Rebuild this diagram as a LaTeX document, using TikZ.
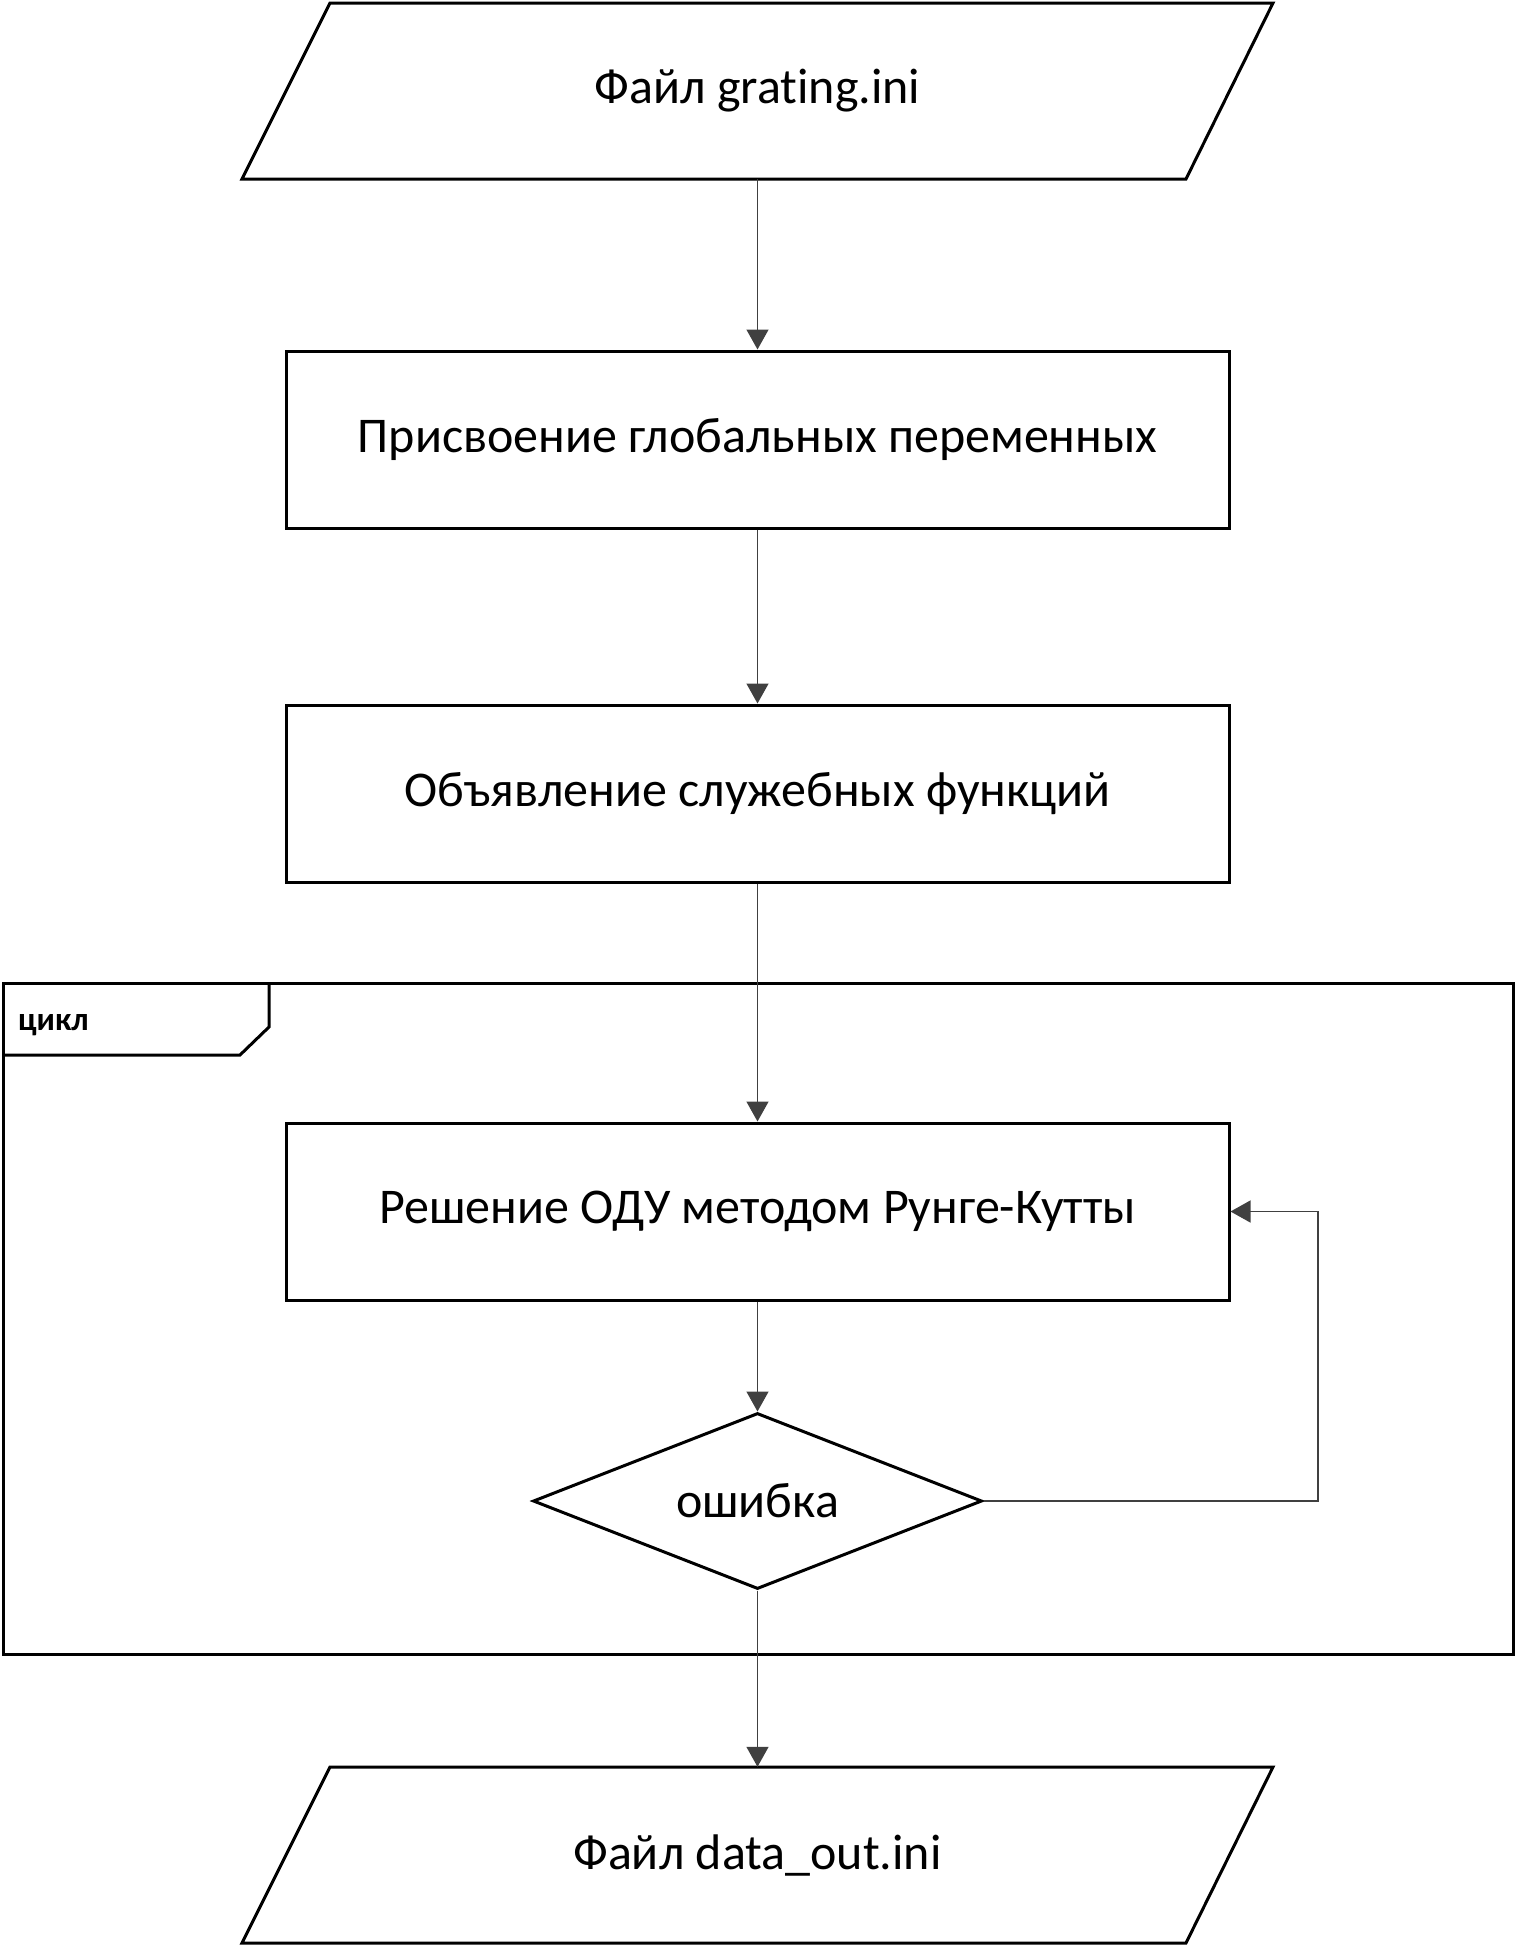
\documentclass[tikz,border=0pt]{standalone}
\usepackage{fontspec}
\setmainfont{Carlito}[Ligatures=CommonOff]
\usetikzlibrary{arrows.meta,shapes.geometric}
\begin{document}
\begin{tikzpicture}[x=1pt,y=-1pt,
  shape line/.style={line width=3pt,black},
  procbox/.style={draw,shape line,rectangle,minimum width=943pt,minimum height=177pt,inner sep=0pt,font=\fontsize{50}{60}\selectfont},
  iobox/.style={rectangle,minimum width=860pt,minimum height=176pt,inner sep=0pt,font=\fontsize{50}{60}\selectfont},
  decbox/.style={draw,shape line,diamond,aspect=2.55,minimum width=449pt,minimum height=176pt,inner sep=0pt,font=\fontsize{50}{60}\selectfont},
  conn/.style={line width=1.4pt,black!75,-{Triangle[length=20pt,width=22pt]}}]
\useasboundingbox (0,0) rectangle (1516,1947);
% input parallelogram
\draw[shape line] (330,3) -- (1273,3) -- (1186,179) -- (242,179) -- cycle;
\node[iobox] (in) at (757.5,91) {Файл grating.ini};
\node[procbox] (b1) at (757.5,439.5) {Присвоение глобальных переменных};
\node[procbox] (b2) at (757.5,793.5) {Объявление служебных функций};
% loop frame
\draw[shape line] (3,983) rectangle (1513,1654);
\draw[shape line] (3,1055) -- (240,1055) -- (269,1027) -- (269,983);
\node[anchor=base west,font=\bfseries\fontsize{33}{40}\selectfont,inner sep=0pt] (loop) at (18,1030) {цикл};
\node[procbox] (b3) at (757.5,1211.5) {Решение ОДУ методом Рунге-Кутты};
\node[decbox] (dia) at (757.5,1501) {ошибка};
% output parallelogram
\draw[shape line] (330,1767) -- (1273,1767) -- (1186,1943) -- (242,1943) -- cycle;
\node[iobox] (out) at (757.5,1855) {Файл data\_out.ini};
% connectors
\draw[conn] (in.south) -- (b1.north);
\draw[conn] (b1.south) -- (b2.north);
\draw[conn] (b2.south) -- (b3.north);
\draw[conn] (b3.south) -- (dia.north);
\draw[conn] (dia.south) -- (out.north);
\coordinate (fb) at (1318,1501);
\draw[conn] (dia.east) -- (fb) |- (b3.east);
\end{tikzpicture}
\end{document}
